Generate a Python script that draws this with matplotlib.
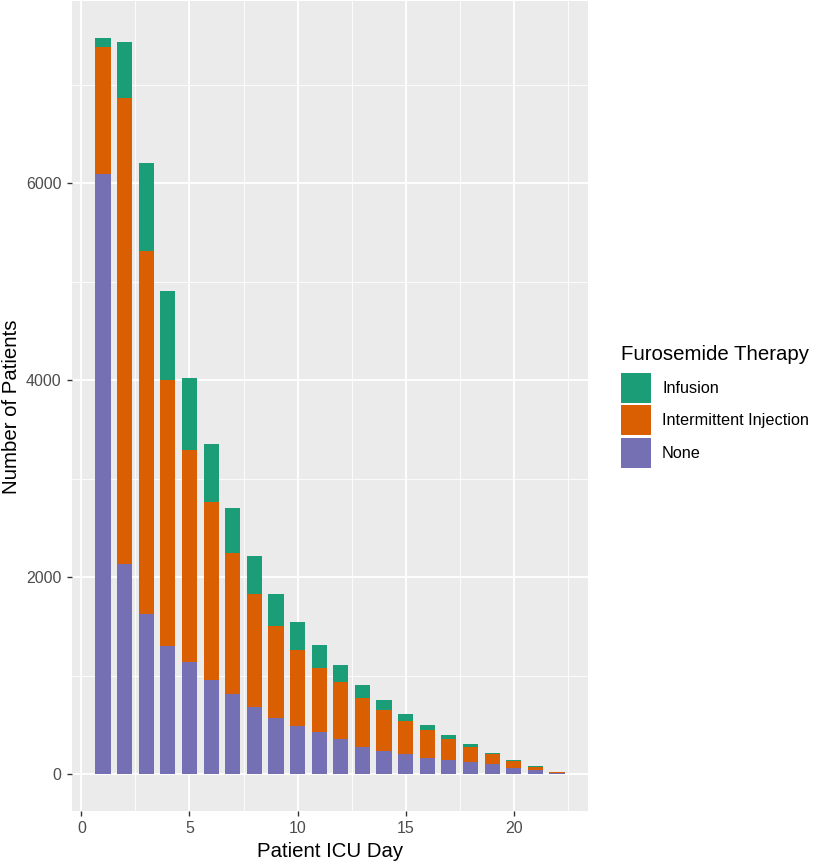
import numpy as np
import matplotlib
matplotlib.use("Agg")
import matplotlib.pyplot as plt
from matplotlib.patches import Rectangle

plt.rcParams['font.family'] = ['Liberation Sans', 'DejaVu Sans']

# ==========================
# Data
# ==========================
days = np.arange(1, 23)
none_counts = [6091, 2132, 1631, 1303, 1140, 954, 819, 680, 572, 485, 426,
               362, 274, 240, 210, 163, 142, 120, 101, 66, 41, 8]
injection_counts = [1293, 4734, 3681, 2704, 2149, 1811, 1431, 1154, 930, 774, 657,
                    572, 498, 410, 328, 284, 220, 157, 104, 64, 37, 14]
infusion_counts = [94, 566, 898, 900, 738, 585, 457, 379, 332, 287, 227,
                   176, 138, 101, 78, 50, 34, 28, 15, 10, 2, 2]

series_names = ["Infusion", "Intermittent Injection", "None"]
colors = {"Infusion": "#1B9E77", "Intermittent Injection": "#D95F02", "None": "#7570B3"}

# ==========================
# Figure
# ==========================
W, H = 813, 863
fig = plt.figure(figsize=(W / 100, H / 100), dpi=100)
ax = fig.add_axes([72 / W, (H - 811) / H, (588 - 72) / W, 810 / H])

none_arr = np.array(none_counts)
inj_arr = np.array(injection_counts)
inf_arr = np.array(infusion_counts)

bar_w = 0.7
ax.bar(days, none_arr, width=bar_w, color=colors["None"], zorder=3)
ax.bar(days, inj_arr, width=bar_w, bottom=none_arr,
       color=colors["Intermittent Injection"], zorder=3)
ax.bar(days, inf_arr, width=bar_w, bottom=none_arr + inj_arr,
       color=colors["Infusion"], zorder=3)

# ggplot-like limits
totals = none_arr + inj_arr + inf_arr
xlo, xhi = days.min() - bar_w / 2, days.max() + bar_w / 2
xpad = 0.05 * (xhi - xlo)
ax.set_xlim(xlo - xpad, xhi + xpad)
ypad = 0.05 * totals.max()
ax.set_ylim(-ypad, totals.max() + ypad)

# ggplot grey theme
ax.set_facecolor("#EBEBEB")
for s in ax.spines.values():
    s.set_visible(False)
ax.set_xticks([0, 5, 10, 15, 20])
ax.set_yticks([0, 2000, 4000, 6000])
ax.set_xticks([2.5, 7.5, 12.5, 17.5, 22.5], minor=True)
ax.set_yticks([1000, 3000, 5000, 7000], minor=True)
ax.grid(which="major", color="white", linewidth=1.3, zorder=0)
ax.grid(which="minor", color="white", linewidth=0.6, zorder=0)
ax.set_axisbelow(True)
ax.tick_params(which="major", length=3.5, width=1.0, color="#333333",
               labelcolor="#4D4D4D", labelsize=11.5, pad=4)
ax.tick_params(which="minor", length=0)

# axis titles
fig.text(330.5 / W, 6.5 / H, "Patient ICU Day", fontsize=14.7,
         ha="center", va="baseline")
fig.text(12 / W, 1 - 406.5 / H, "Number of Patients", fontsize=14.7,
         rotation=90, ha="center", va="center")

# ==========================
# Legend (drawn by hand, ggplot layout)
# ==========================
fig.text(621 / W, 1 - 360 / H, "Furosemide Therapy", fontsize=14.7,
         ha="left", va="baseline")
key_tops = [373, 405.5, 438]
for name, top in zip(series_names, key_tops):
    fig.add_artist(Rectangle((621 / W, 1 - (top + 30) / H), 30 / W, 30 / H,
                             transform=fig.transFigure,
                             facecolor=colors[name], edgecolor="none"))
    fig.text(662 / W, 1 - (top + 15) / H, name, fontsize=11.7,
             ha="left", va="center")

plt.savefig("out.png", dpi=100)
